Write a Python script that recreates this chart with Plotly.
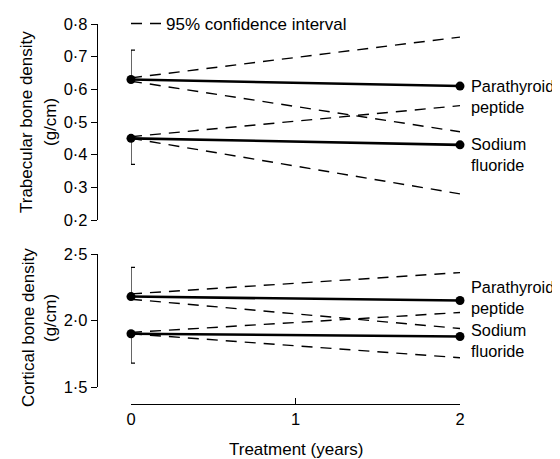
import plotly.graph_objects as go

# ---- data ----
years = [0, 2]
x_ticks = [0, 1, 2]
x_ticklabels = ["0", "1", "2"]

trab_pth = [0.63, 0.61]
trab_naf = [0.45, 0.43]
trab_pth_ci_upper = [0.635, 0.76]
trab_pth_ci_lower = [0.625, 0.47]
trab_naf_ci_upper = [0.455, 0.55]
trab_naf_ci_lower = [0.45, 0.28]
trab_pth_err_up = [0.09, 0]
trab_naf_err_down = [0.08, 0]
trab_ticks = [0.2, 0.3, 0.4, 0.5, 0.6, 0.7, 0.8]
trab_ticklabels = ["0·2", "0·3", "0·4", "0·5", "0·6", "0·7", "0·8"]

cort_pth = [2.18, 2.15]
cort_naf = [1.90, 1.88]
cort_pth_ci_upper = [2.20, 2.36]
cort_pth_ci_lower = [2.16, 1.94]
cort_naf_ci_upper = [1.91, 2.06]
cort_naf_ci_lower = [1.90, 1.72]
cort_pth_err_up = [0.22, 0]
cort_naf_err_down = [0.22, 0]
cort_ticks = [1.5, 2.0, 2.5]
cort_ticklabels = ["1·5", "2·0", "2·5"]

# ---- layout geometry (reference pixels -> paper; page has an 8px body margin) ----
OFF = 8
W, H = 560 - OFF, 459 - OFF
FONT = "Liberation Sans, Arial, Helvetica, sans-serif"
FS = 16.5
FT = 17


def px(x):
    return (x - OFF) / W


def py(y):
    return 1 - (y - OFF) / H


fig = go.Figure()

DASH = "11px,8px"


def add_panel(yax, pth, naf, pth_up, pth_lo, naf_up, naf_lo, pth_err, naf_err, legend):
    for i, ci in enumerate([pth_up, pth_lo, naf_up, naf_lo]):
        fig.add_trace(go.Scatter(
            x=years, y=ci, mode="lines", yaxis=yax, xaxis="x",
            line=dict(color="black", width=1.4, dash=DASH),
            name="95% confidence interval",
            showlegend=(legend and i == 0), cliponaxis=False, hoverinfo="skip"))
    fig.add_trace(go.Scatter(
        x=years, y=pth, mode="lines+markers", yaxis=yax, xaxis="x",
        line=dict(color="black", width=2.6),
        marker=dict(color="black", size=9),
        error_y=dict(type="data", symmetric=False, array=pth_err,
                     arrayminus=[0, 0], color="black", thickness=1.2, width=4),
        showlegend=False, cliponaxis=False, name="Parathyroid peptide"))
    fig.add_trace(go.Scatter(
        x=years, y=naf, mode="lines+markers", yaxis=yax, xaxis="x",
        line=dict(color="black", width=2.6),
        marker=dict(color="black", size=9),
        error_y=dict(type="data", symmetric=False, array=[0, 0],
                     arrayminus=naf_err, color="black", thickness=1.2, width=4),
        showlegend=False, cliponaxis=False, name="Sodium fluoride"))


add_panel("y", trab_pth, trab_naf, trab_pth_ci_upper, trab_pth_ci_lower,
          trab_naf_ci_upper, trab_naf_ci_lower, trab_pth_err_up, trab_naf_err_down, True)
add_panel("y2", cort_pth, cort_naf, cort_pth_ci_upper, cort_pth_ci_lower,
          cort_naf_ci_upper, cort_naf_ci_lower, cort_pth_err_up, cort_naf_err_down, False)

yaxis_common = dict(
    anchor="free", position=px(97), showline=True, linecolor="black", linewidth=1.4,
    ticks="outside", ticklen=6, tickwidth=1.4, tickcolor="black",
    showgrid=False, zeroline=False, tickfont=dict(family=FONT, size=FS, color="black"),
    tickmode="array",
)

fig.update_layout(
    width=W, height=H,
    margin=dict(l=0, r=0, t=0, b=0, autoexpand=False),
    paper_bgcolor="white", plot_bgcolor="white",
    font=dict(family=FONT, size=FT, color="black"),
    xaxis=dict(
        domain=[px(131), px(460)], range=[0, 2], anchor="free", position=py(404),
        showline=True, linecolor="black", linewidth=1.4,
        ticks="inside", ticklen=6, tickwidth=1.4, tickcolor="black",
        tickmode="array", tickvals=x_ticks, ticktext=x_ticklabels,
        showgrid=False, zeroline=False,
        tickfont=dict(family=FONT, size=FS, color="black"),
    ),
    yaxis=dict(domain=[py(220), py(24)], range=[0.2, 0.8],
               tickvals=trab_ticks, ticktext=trab_ticklabels, **yaxis_common),
    yaxis2=dict(domain=[py(387), py(254)], range=[1.5, 2.5],
                tickvals=cort_ticks, ticktext=cort_ticklabels, **yaxis_common),
    showlegend=True,
    legend=dict(x=px(126), y=py(6), xanchor="left", yanchor="top",
                bgcolor="rgba(0,0,0,0)", font=dict(family=FONT, size=FT, color="black"),
                itemwidth=30),
)

ann = []
# axis titles
ann.append(dict(text="Trabecular bone density", x=px(27), y=py(122), xref="paper", yref="paper",
                textangle=-90, showarrow=False, xanchor="center", yanchor="middle"))
ann.append(dict(text="(g/cm)", x=px(51), y=py(122), xref="paper", yref="paper",
                textangle=-90, showarrow=False, xanchor="center", yanchor="middle"))
ann.append(dict(text="Cortical bone density", x=px(28), y=py(328), xref="paper", yref="paper",
                textangle=-90, showarrow=False, xanchor="center", yanchor="middle"))
ann.append(dict(text="(g/cm)", x=px(50), y=py(318), xref="paper", yref="paper",
                textangle=-90, showarrow=False, xanchor="center", yanchor="middle"))
ann.append(dict(text="Treatment (years)", x=1, y=py(449), xref="x", yref="paper",
                showarrow=False, xanchor="center", yanchor="middle"))
# series labels
labels = [
    ("Parathyroid<br>peptide", trab_pth[-1], "y", -10),
    ("Sodium<br>fluoride", trab_naf[-1], "y", -10),
    ("Parathyroid<br>peptide", cort_pth[-1], "y2", 3),
    ("Sodium<br>fluoride", cort_naf[-1], "y2", -4),
]
for txt, yv, yr, ys in labels:
    ann.append(dict(text=txt, x=years[-1], y=yv, xref="x", yref=yr, xanchor="left",
                    yanchor="middle", xshift=9, yshift=ys, align="left", showarrow=False,
                    font=dict(family=FONT, size=16.3, color="black")))
fig.update_layout(annotations=ann)

fig.write_html("out.html")
